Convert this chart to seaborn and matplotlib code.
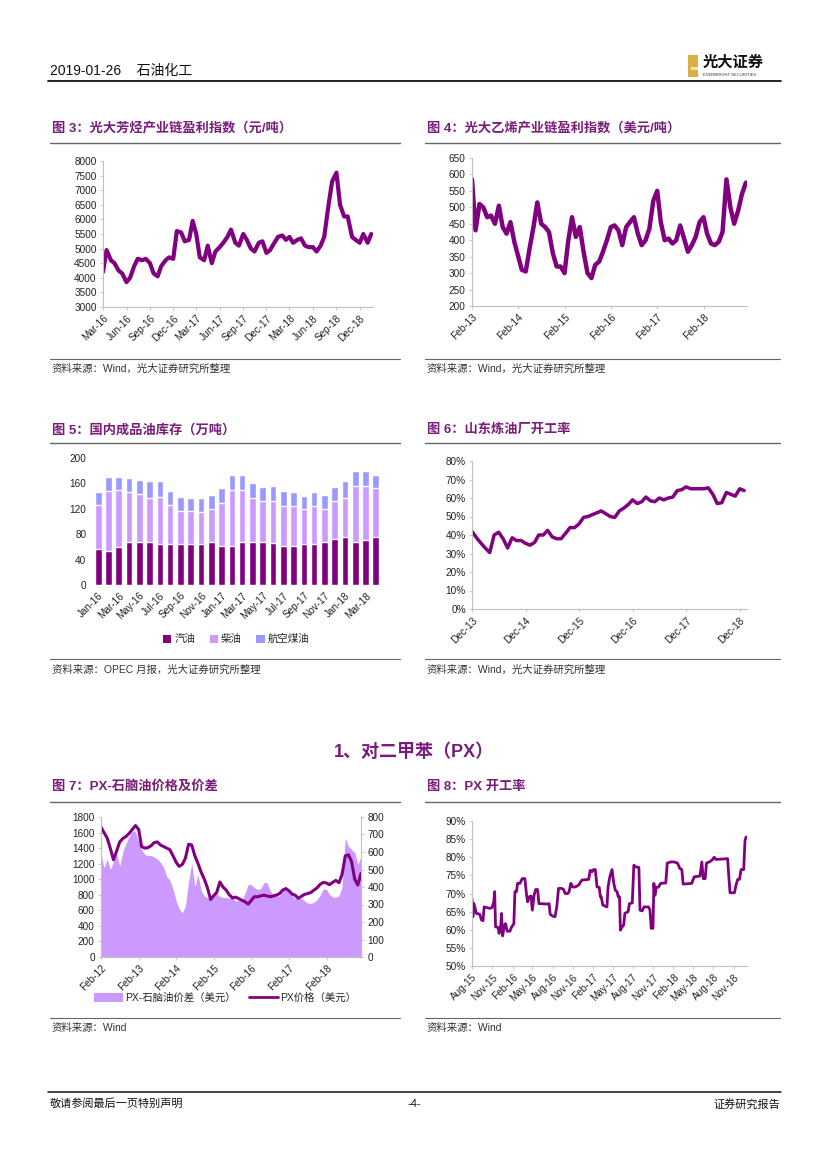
import numpy as np
import pandas as pd
import matplotlib
matplotlib.use("Agg")
import matplotlib.pyplot as plt
import seaborn as sns
from matplotlib.lines import Line2D
from matplotlib.patches import Rectangle, Patch

# ---------------- data ----------------
# Fig 3: aromatics chain profit index (yuan/t), semi-monthly from 2016-03-01
f3_start = "2016-03-01"
f3_values = [4200, 4950, 4600, 4500, 4250, 4150, 3850, 4000, 4400, 4650,
             4600, 4650, 4500, 4150, 4050, 4400, 4600, 4700, 4650, 5600,
             5550, 5250, 5300, 5950, 5500, 4700, 4600, 5100, 4500, 4900,
             5050, 5200, 5400, 5650, 5200, 5100, 5500, 5300, 5000, 4900,
             5200, 5250, 4850, 4950, 5200, 5400, 5450, 5300, 5400, 5200,
             5300, 5350, 5100, 5050, 5050, 4900, 5100, 5400, 6500, 7300,
             7600, 6500, 6100, 6100, 5400, 5300, 5200, 5500, 5200, 5500]
f3_ticks = ["2016-03-01", "2016-06-01", "2016-09-01", "2016-12-01", "2017-03-01", "2017-06-01",
            "2017-09-01", "2017-12-01", "2018-03-01", "2018-06-01", "2018-09-01", "2018-12-01"]
f3_ticklabels = ["Mar-16", "Jun-16", "Sep-16", "Dec-16", "Mar-17", "Jun-17",
                 "Sep-17", "Dec-17", "Mar-18", "Jun-18", "Sep-18", "Dec-18"]

# Fig 4: ethylene chain profit index (USD/t), monthly from 2013-02
f4_start = "2013-02-01"
f4_values = [585, 430, 510, 500, 470, 475, 450, 505, 440, 420,
             455, 395, 350, 310, 305, 375, 440, 515, 450, 440,
             425, 360, 320, 320, 300, 395, 470, 410, 440, 365,
             300, 285, 325, 335, 365, 400, 440, 445, 430, 385,
             440, 455, 470, 420, 385, 400, 435, 520, 550, 455,
             400, 405, 390, 400, 445, 405, 365, 385, 410, 455,
             470, 420, 390, 385, 395, 425, 585, 500, 450, 490,
             540, 575]
f4_ticks = ["2013-02-01", "2014-02-01", "2015-02-01", "2016-02-01", "2017-02-01", "2018-02-01"]
f4_ticklabels = ["Feb-13", "Feb-14", "Feb-15", "Feb-16", "Feb-17", "Feb-18"]

# Fig 5: domestic product oil inventory (10k t)
f5_months = ["Jan-16", "Feb-16", "Mar-16", "Apr-16", "May-16", "Jun-16", "Jul-16", "Aug-16",
             "Sep-16", "Oct-16", "Nov-16", "Dec-16", "Jan-17", "Feb-17", "Mar-17", "Apr-17",
             "May-17", "Jun-17", "Jul-17", "Aug-17", "Sep-17", "Oct-17", "Nov-17", "Dec-17",
             "Jan-18", "Feb-18", "Mar-18", "Apr-18"]
f5_gasoline = [57, 54, 60, 67, 68, 68, 65, 65, 64, 65, 65, 68, 61, 62,
               68, 68, 68, 66, 62, 62, 64, 65, 67, 72, 75, 67, 71, 75]
f5_diesel = [69, 94, 90, 80, 76, 69, 74, 61, 53, 52, 50, 51, 68, 88,
             82, 69, 65, 67, 62, 62, 55, 59, 52, 61, 62, 89, 85, 77]
f5_jet = [21, 22, 20, 21, 22, 26, 24, 22, 21, 20, 22, 23, 24, 24,
          24, 24, 21, 23, 24, 23, 21, 23, 23, 22, 26, 24, 24, 22]
f5_series = ["汽油", "柴油", "航空煤油"]

# Fig 6: Shandong refinery utilisation (%), monthly from 2013-12
f6_start = "2013-12-01"
f6_values = [42, 38.5, 35.5, 33, 30.5, 40, 41.5, 38, 33, 38.5,
             37, 37, 35.5, 34.5, 36, 40, 40, 42.5, 39, 38,
             38, 41, 44, 44, 46, 49.5, 50, 51, 52, 53,
             51.5, 50, 49.5, 53, 54.5, 56.5, 59, 57, 58, 60.5,
             58.5, 58, 60, 59, 60, 60.5, 64, 64.5, 66, 65,
             65, 65, 65, 65.5, 62, 57, 57.5, 63, 62, 61,
             65, 64]
f6_ticks = ["2013-12-01", "2014-12-01", "2015-12-01", "2016-12-01", "2017-12-01", "2018-12-01"]
f6_ticklabels = ["Dec-13", "Dec-14", "Dec-15", "Dec-16", "Dec-17", "Dec-18"]

# Fig 7: PX price and PX-naphtha spread (USD), monthly from 2012-02
f7_start = "2012-02-01"
f7_spread = [593, 510, 560, 500, 545, 593, 520, 605, 650, 690,
             720, 715, 660, 615, 585, 580, 580, 572, 560, 540,
             512, 459, 440, 388, 320, 275, 252, 290, 430, 536,
             402, 470, 380, 348, 338, 342, 357, 362, 345, 340,
             340, 336, 342, 318, 325, 325, 364, 415, 413, 396,
             386, 390, 425, 425, 380, 350, 347, 350, 377, 388,
             363, 353, 335, 335, 335, 322, 308, 306, 313, 328,
             355, 390, 385, 358, 343, 341, 350, 400, 680, 632,
             614, 597, 530, 574]
f7_price = [1670, 1600, 1530, 1400, 1250, 1360, 1480, 1525, 1550, 1590,
            1640, 1690, 1640, 1420, 1400, 1405, 1430, 1470, 1480, 1440,
            1420, 1400, 1380, 1300, 1215, 1165, 1190, 1270, 1450, 1440,
            1300, 1200, 1090, 1000, 890, 740, 790, 830, 965, 900,
            860, 800, 760, 770, 750, 730, 710, 680, 730, 775,
            775, 785, 795, 785, 775, 785, 795, 815, 860, 880,
            850, 810, 795, 755, 780, 805, 815, 830, 860, 890,
            935, 960, 950, 930, 960, 985, 955, 1060, 1300, 1315,
            1230, 1000, 925, 1075]
f7_series = ["PX-石脑油价差（美元）", "PX价格（美元）"]
f7_ticks = ["2012-02-01", "2013-02-01", "2014-02-01", "2015-02-01", "2016-02-01", "2017-02-01", "2018-02-01"]
f7_ticklabels = ["Feb-12", "Feb-13", "Feb-14", "Feb-15", "Feb-16", "Feb-17", "Feb-18"]

# Fig 8: PX utilisation (%)
f8_dates = ["2015-08-01", "2015-08-05", "2015-08-10", "2015-08-21", "2015-09-05", "2015-09-13",
            "2015-09-20", "2015-09-25", "2015-10-21", "2015-10-31", "2015-11-08", "2015-11-12",
            "2015-11-16", "2015-11-28", "2015-12-02", "2015-12-10", "2015-12-13", "2015-12-18",
            "2015-12-25", "2015-12-31", "2016-01-08", "2016-01-20", "2016-01-28", "2016-02-07",
            "2016-02-12", "2016-02-19", "2016-02-24", "2016-03-06", "2016-03-16", "2016-03-28",
            "2016-04-05", "2016-04-10", "2016-04-17", "2016-04-25", "2016-05-01", "2016-05-09",
            "2016-05-16", "2016-05-25", "2016-05-31", "2016-07-10", "2016-07-16", "2016-07-21",
            "2016-07-31", "2016-08-12", "2016-08-20", "2016-08-28", "2016-09-12", "2016-09-20",
            "2016-09-27", "2016-10-09", "2016-10-15", "2016-10-23", "2016-10-31", "2016-11-12",
            "2016-11-27", "2016-12-12", "2017-01-12", "2017-01-19", "2017-01-27", "2017-02-03",
            "2017-02-11", "2017-02-19", "2017-03-01", "2017-03-06", "2017-03-10", "2017-03-17",
            "2017-04-05", "2017-04-10", "2017-04-18", "2017-04-28", "2017-05-06", "2017-05-13",
            "2017-05-21", "2017-05-26", "2017-06-01", "2017-06-05", "2017-06-13", "2017-06-20",
            "2017-06-25", "2017-07-10", "2017-07-16", "2017-07-29", "2017-08-05", "2017-08-16",
            "2017-08-28", "2017-09-02", "2017-09-12", "2017-09-20", "2017-10-10", "2017-10-17",
            "2017-10-23", "2017-10-31", "2017-11-04", "2017-11-09", "2017-11-15", "2017-11-24",
            "2017-12-05", "2017-12-28", "2018-01-04", "2018-01-20", "2018-02-04", "2018-02-19",
            "2018-03-02", "2018-03-11", "2018-03-17", "2018-04-25", "2018-05-06", "2018-06-01",
            "2018-06-10", "2018-06-16", "2018-06-25", "2018-07-01", "2018-07-14", "2018-07-26",
            "2018-08-05", "2018-08-13", "2018-10-05", "2018-10-10", "2018-10-16", "2018-11-05",
            "2018-11-12", "2018-11-20", "2018-11-28", "2018-12-05", "2018-12-17", "2018-12-23",
            "2018-12-28"]
f8_values = [68.6, 63.6, 67.2, 64.5, 64.3, 62.7,
             62.5, 66.3, 65.9, 66.1, 67.7, 70.5,
             60.8, 60.6, 59.0, 61.3, 64.5, 58.3,
             60.8, 61.7, 59.6, 59.6, 60.8, 61.6,
             70.5, 70.5, 72.8, 72.8, 74.1, 74.1,
             69.5, 67.7, 69.1, 69.3, 65.4, 69.5,
             71.1, 71.1, 67.2, 67.1, 67.2, 64.3,
             63.8, 63.6, 66.3, 71.4, 71.4, 71.1,
             70.0, 70.0, 70.5, 72.8, 71.8, 71.8,
             72.3, 73.7, 73.9, 76.4, 76.0, 76.6,
             76.6, 71.8, 71.7, 69.1, 69.1, 66.8,
             66.3, 71.8, 74.6, 76.6, 72.8, 70.9,
             70.5, 69.1, 69.1, 59.9, 60.8, 61.3,
             64.5, 65.0, 67.2, 67.4, 77.8, 77.3,
             77.2, 65.4, 65.2, 66.3, 66.3, 65.6,
             60.4, 60.4, 72.8, 69.5, 71.8, 71.7,
             72.8, 72.9, 78.4, 78.7, 78.7, 78.4,
             76.9, 76.6, 72.6, 72.8, 74.6, 74.8,
             78.7, 74.1, 74.1, 78.4, 78.7, 79.2,
             80.0, 79.4, 79.6, 75.0, 70.2, 70.2,
             72.3, 73.9, 73.9, 76.6, 76.6, 84.7,
             85.6]
f8_ticks = ["2015-08-01", "2015-11-01", "2016-02-01", "2016-05-01", "2016-08-01", "2016-11-01",
            "2017-02-01", "2017-05-01", "2017-08-01", "2017-11-01", "2018-02-01", "2018-05-01",
            "2018-08-01", "2018-11-01"]
f8_ticklabels = ["Aug-15", "Nov-15", "Feb-16", "May-16", "Aug-16", "Nov-16", "Feb-17", "May-17",
                 "Aug-17", "Nov-17", "Feb-18", "May-18", "Aug-18", "Nov-18"]

# ---------------- style ----------------
sns.set_theme(style="white")
plt.rcParams["font.family"] = ["Liberation Sans", "Noto Sans CJK SC", "DejaVu Sans"]
plt.rcParams["axes.unicode_minus"] = False

PURPLE = "#800080"
TITLE_C = "#7A1C7A"
LAV = "#CC99FF"
PERI = "#9999FF"
AXC = "#BFBFBF"
W, H = 827, 1169

fig = plt.figure(figsize=(8.27, 11.69), dpi=100)


def box(l, t, r, b):
    return [l / W, 1 - b / H, (r - l) / W, (b - t) / H]


def fy(py):
    return 1 - py / H


def hline(x0, x1, y, color="#555555", lw=0.9):
    fig.add_artist(Line2D([x0 / W, x1 / W], [fy(y), fy(y)], color=color, lw=lw))


def style(ax):
    for s in ["top", "right"]:
        ax.spines[s].set_visible(False)
    for s in ["left", "bottom"]:
        ax.spines[s].set_color(AXC)
        ax.spines[s].set_linewidth(0.8)
    ax.tick_params(axis="both", labelsize=7.2, length=2.5, width=0.6, color=AXC,
                   pad=2, labelcolor="#222222", left=True, bottom=True)
    ax.grid(False)
    ax.set_xlabel("")
    ax.set_ylabel("")


def date_ticks(ax, ticks, labels):
    ax.set_xticks(pd.to_datetime(ticks))
    ax.set_xticklabels(labels, rotation=45, ha="right", rotation_mode="anchor")


def chart_frame(x0, x1, title, title_y, line_y, src_line_y, src, src_y):
    fig.text((x0 + 2) / W, fy(title_y), title, fontsize=9.5, fontweight="bold",
             color=TITLE_C, va="center")
    hline(x0, x1, line_y, color="#666666", lw=1.0)
    hline(x0, x1, src_line_y, color="#666666", lw=0.8)
    fig.text((x0 + 2) / W, fy(src_y), src, fontsize=7.5, color="#333333", va="center")


# ---------------- header / footer ----------------
fig.text(50 / W, fy(71), "2019-01-26    石油化工", fontsize=10, color="#111111", va="center")
hline(48, 781, 81, color="#111111", lw=1.3)
fig.add_artist(Rectangle((688 / W, fy(77)), 10 / W, 22 / H, transform=fig.transFigure,
                         facecolor="#D9B048", edgecolor="none"))
fig.add_artist(Rectangle((691 / W, fy(70)), 7 / W, 3 / H, transform=fig.transFigure,
                         facecolor="#F3E2A8", edgecolor="none"))
fig.text(703 / W, fy(63), "光大证券", fontsize=11, fontweight="bold", color="#111111", va="center")
fig.text(703 / W, fy(75), "EVERBRIGHT SECURITIES", fontsize=3, color="#333333", va="center")

hline(48, 781, 1092, color="#111111", lw=1.1)
fig.text(50 / W, fy(1104), "敬请参阅最后一页特别声明", fontsize=8, color="#111111", va="center")
fig.text(414 / W, fy(1104), "-4-", fontsize=8, color="#111111", va="center", ha="center")
fig.text(780 / W, fy(1104), "证券研究报告", fontsize=8, color="#111111", va="center", ha="right")

fig.text(414 / W, fy(752), "1、对二甲苯（PX）", fontsize=13, fontweight="bold",
         color=TITLE_C, va="center", ha="center")

# ---------------- Fig 3 ----------------
chart_frame(50, 400, "图 3：光大芳烃产业链盈利指数（元/吨）", 128, 143, 359, "资料来源：Wind，光大证券研究所整理", 369)
ax3 = fig.add_axes(box(103, 161, 373, 307))
d3 = pd.date_range(f3_start, periods=len(f3_values), freq="SMS")
sns.lineplot(x=d3, y=f3_values, ax=ax3, color=PURPLE, lw=3.0)
ax3.set_ylim(3000, 8000)
ax3.set_yticks(np.arange(3000, 8001, 500))
ax3.set_xlim(pd.Timestamp("2016-03-01"), pd.Timestamp("2019-01-22"))
style(ax3)
date_ticks(ax3, f3_ticks, f3_ticklabels)

# ---------------- Fig 4 ----------------
chart_frame(425, 780, "图 4：光大乙烯产业链盈利指数（美元/吨）", 128, 143, 359, "资料来源：Wind，光大证券研究所整理", 369)
ax4 = fig.add_axes(box(472, 158, 747, 306))
d4 = pd.date_range(f4_start, periods=len(f4_values), freq="MS")
sns.lineplot(x=d4, y=f4_values, ax=ax4, color=PURPLE, lw=3.2)
ax4.set_ylim(200, 650)
ax4.set_yticks(np.arange(200, 651, 50))
ax4.set_xlim(pd.Timestamp("2013-02-01"), pd.Timestamp("2019-01-10"))
style(ax4)
date_ticks(ax4, f4_ticks, f4_ticklabels)

# ---------------- Fig 5 ----------------
chart_frame(50, 400, "图 5：国内成品油库存（万吨）", 430, 443, 659, "资料来源：OPEC 月报，光大证券研究所整理", 670)
ax5 = fig.add_axes(box(92, 458, 382, 585))
g = np.array(f5_gasoline)
dsl = np.array(f5_diesel)
jt = np.array(f5_jet)
sns.barplot(x=f5_months, y=g + dsl + jt, ax=ax5, color=PERI, saturation=1, width=0.65, errorbar=None)
sns.barplot(x=f5_months, y=g + dsl, ax=ax5, color=LAV, saturation=1, width=0.65, errorbar=None)
sns.barplot(x=f5_months, y=g, ax=ax5, color=PURPLE, saturation=1, width=0.65, errorbar=None)
ax5.set_ylim(0, 200)
ax5.set_yticks(np.arange(0, 201, 40))
ax5.set_xlim(-0.6, len(f5_months) - 0.4)
style(ax5)
ax5.spines["left"].set_visible(False)
ax5.spines["bottom"].set_visible(False)
ax5.tick_params(axis="both", length=0, pad=4)
ax5.set_xticks(range(0, len(f5_months), 2))
ax5.set_xticklabels(f5_months[::2], rotation=45, ha="right", rotation_mode="anchor")
h5 = [Patch(facecolor=c, edgecolor="none") for c in [PURPLE, LAV, PERI]]
ax5.legend(h5, f5_series, loc="center", bbox_to_anchor=(236 / W, fy(639)), bbox_transform=fig.transFigure,
           ncol=3, frameon=False, fontsize=7.5, handlelength=0.8, handleheight=0.8,
           handletextpad=0.3, columnspacing=1.4)

# ---------------- Fig 6 ----------------
chart_frame(425, 780, "图 6：山东炼油厂开工率", 430, 443, 659, "资料来源：Wind，光大证券研究所整理", 670)
ax6 = fig.add_axes(box(472, 461, 747, 609))
d6 = pd.date_range(f6_start, periods=len(f6_values), freq="MS")
sns.lineplot(x=d6, y=f6_values, ax=ax6, color=PURPLE, lw=2.5)
ax6.set_ylim(0, 80)
ax6.set_yticks(np.arange(0, 81, 10))
ax6.set_yticklabels([f"{v}%" for v in range(0, 81, 10)])
ax6.set_xlim(pd.Timestamp("2013-12-01"), pd.Timestamp("2019-01-20"))
style(ax6)
date_ticks(ax6, f6_ticks, f6_ticklabels)

# ---------------- Fig 7 ----------------
chart_frame(50, 400, "图 7：PX-石脑油价格及价差", 787, 802, 1018, "资料来源：Wind", 1028)
ax7 = fig.add_axes(box(101, 817, 361, 957))
ax7b = ax7.twinx()
d7 = pd.date_range(f7_start, periods=len(f7_price), freq="MS")
ax7b.fill_between(d7, f7_spread, color=LAV, lw=0)
sns.lineplot(x=d7, y=f7_price, ax=ax7, color=PURPLE, lw=2.2)
ax7.set_zorder(ax7b.get_zorder() + 1)
ax7.patch.set_visible(False)
ax7.set_ylim(0, 1800)
ax7.set_yticks(np.arange(0, 1801, 200))
ax7b.set_ylim(0, 800)
ax7b.set_yticks(np.arange(0, 801, 100))
for a in (ax7, ax7b):
    a.set_xlim(pd.Timestamp("2012-02-01"), pd.Timestamp("2019-01-01"))
style(ax7)
ax7b.grid(False)
for s in ["top", "left", "bottom"]:
    ax7b.spines[s].set_visible(False)
ax7b.spines["right"].set_color(AXC)
ax7b.spines["right"].set_linewidth(0.8)
ax7b.tick_params(axis="y", labelsize=7.2, length=2.5, width=0.6, color=AXC, pad=2,
                 labelcolor="#222222", right=True)
ax7b.set_ylabel("")
date_ticks(ax7, f7_ticks, f7_ticklabels)
h7 = [Patch(facecolor=LAV, edgecolor="none"), Line2D([0], [0], color=PURPLE, lw=2)]
ax7.legend(h7, f7_series, loc="center", bbox_to_anchor=(225 / W, fy(998)), bbox_transform=fig.transFigure,
           ncol=2, frameon=False, fontsize=7.5, handlelength=2.8, handleheight=0.9,
           handletextpad=0.2, columnspacing=1.2)

# ---------------- Fig 8 ----------------
chart_frame(425, 780, "图 8：PX 开工率", 787, 802, 1018, "资料来源：Wind", 1028)
ax8 = fig.add_axes(box(472, 821, 747, 966))
d8 = pd.to_datetime(f8_dates)
sns.lineplot(x=d8, y=f8_values, ax=ax8, color=PURPLE, lw=2.0)
ax8.set_ylim(50, 90)
ax8.set_yticks(np.arange(50, 91, 5))
ax8.set_yticklabels([f"{v}%" for v in range(50, 91, 5)])
ax8.set_xlim(pd.Timestamp("2015-08-01"), pd.Timestamp("2019-01-01"))
style(ax8)
date_ticks(ax8, f8_ticks, f8_ticklabels)

fig.savefig("out.png", dpi=100, facecolor="white")
